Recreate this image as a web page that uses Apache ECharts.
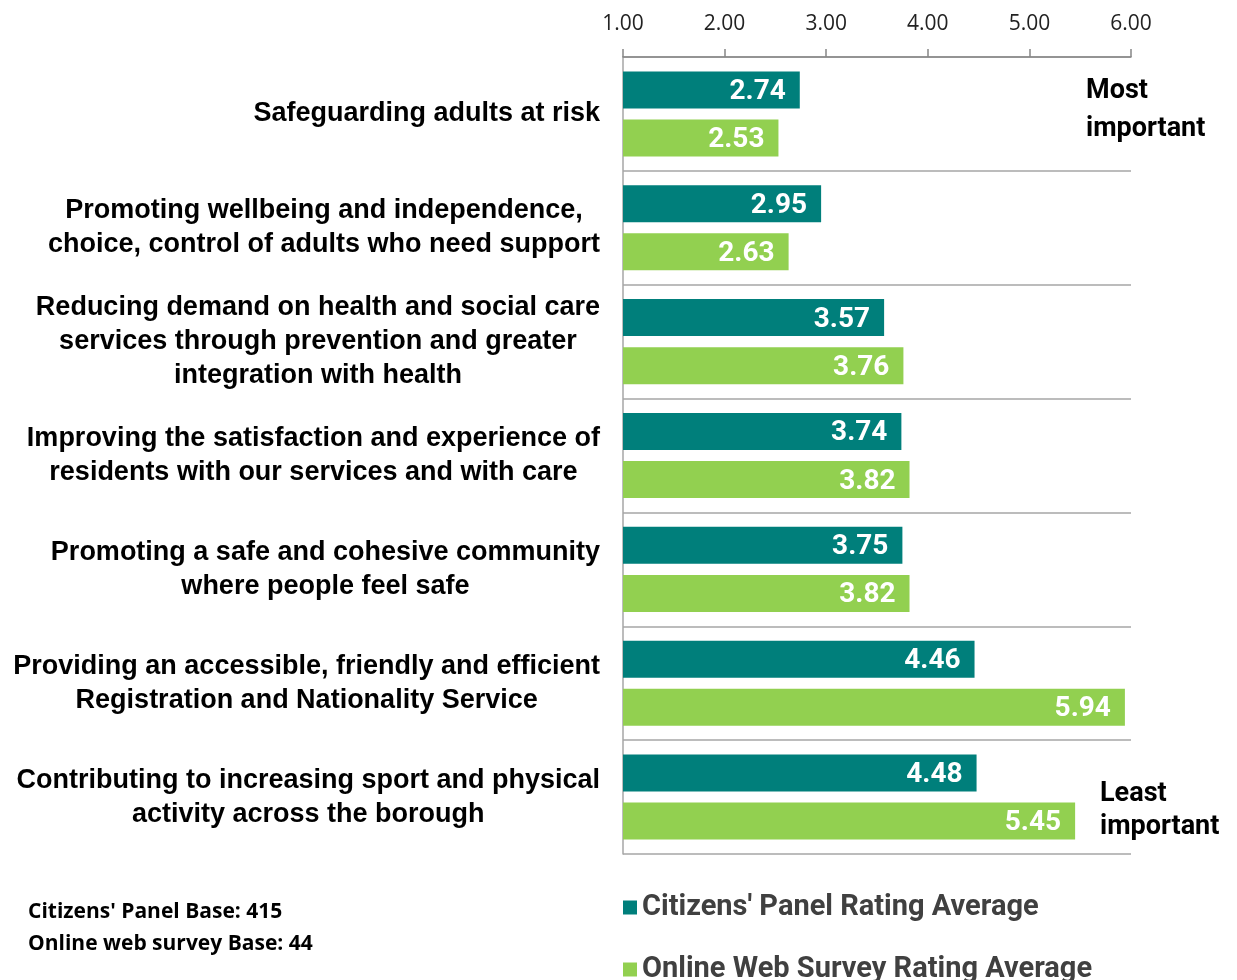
<!DOCTYPE html>
<html>
<head>
    <meta charset="utf-8">
    <title>Priorities rating</title>
    <script src="https://cdn.jsdelivr.net/npm/echarts@6/dist/echarts.min.js"></script>
    <style>
        html, body {margin:0;padding:0;background:#fff;}
        #main {width:1237px;height:980px;}
    </style>
</head>
<body>
<div id="main"></div>
<script>
    // data
    var categories = [
        'Safeguarding adults at risk',
        'Promoting wellbeing and independence,\nchoice, control of adults who need support',
        'Reducing demand on health and social care\nservices through prevention and greater\nintegration with health',
        'Improving the satisfaction and experience of\nresidents with our services and with care',
        'Promoting a safe and cohesive community\nwhere people feel safe',
        'Providing an accessible, friendly and efficient\nRegistration and Nationality Service',
        'Contributing to increasing sport and physical\nactivity across the borough'
    ];
    var panelAvg = [2.74, 2.95, 3.57, 3.74, 3.75, 4.46, 4.48];
    var webAvg = [2.53, 2.63, 3.76, 3.82, 3.82, 5.94, 5.45];
    var tickLabels = ['1.00', '2.00', '3.00', '4.00', '5.00', '6.00'];
    var seriesNames = ["Citizens' Panel Rating Average", 'Online Web Survey Rating Average'];

    var chart = echarts.init(document.getElementById('main'));

    var legendText = {fontFamily: 'Roboto', fontWeight: 'bold', fontSize: 29, color: '#404040'};
    var valueLabel = {
        show: true, position: 'insideRight', distance: 14, offset: [0, 2],
        fontFamily: 'Roboto', fontWeight: 'bold', fontSize: 28, color: '#fff',
        formatter: function (p) { return p.value.toFixed(2); }
    };

    chart.setOption({
        animation: false,
        grid: {left: 623, right: 106, top: 57, bottom: 126, containLabel: false},
        // one legend per line, like the stacked key in the picture
        legend: [
            {left: 618, top: 888, icon: 'rect', itemWidth: 14, itemHeight: 14,
             data: [seriesNames[0]], textStyle: legendText},
            {left: 618, top: 950, icon: 'rect', itemWidth: 14, itemHeight: 14,
             data: [seriesNames[1]], textStyle: legendText}
        ],
        xAxis: {
            type: 'value',
            position: 'top',
            min: 1,
            max: 6,
            interval: 1,
            axisLine: {show: true, lineStyle: {color: '#868686', width: 1.5}},
            axisTick: {show: true, length: 8, lineStyle: {color: '#868686', width: 1.5}},
            splitLine: {show: false},
            axisLabel: {
                margin: 22,
                fontFamily: 'Open Sans',
                fontSize: 21,
                color: '#222',
                formatter: function (v) { return tickLabels[Math.round(v) - 1]; }
            }
        },
        yAxis: {
            type: 'category',
            inverse: true,
            data: categories,
            axisLine: {show: true, lineStyle: {color: '#a6a6a6', width: 1.5}},
            axisTick: {show: false},
            splitLine: {show: true, lineStyle: {color: '#a6a6a6', width: 1.5}},
            axisLabel: {
                margin: 23,
                align: 'right',
                formatter: function (v) {
                    return v.split('\n').map(function (l) { return '{c|' + l + '}'; }).join('\n');
                },
                rich: {
                    c: {
                        align: 'center',
                        fontFamily: 'Liberation Sans',
                        fontWeight: 'bold',
                        fontSize: 27,
                        lineHeight: 34,
                        color: '#000'
                    }
                }
            }
        },
        series: [
            {
                name: seriesNames[0],
                type: 'bar',
                data: panelAvg,
                barWidth: 37,
                barGap: '30%',
                itemStyle: {color: '#007f7b'},
                label: valueLabel
            },
            {
                name: seriesNames[1],
                type: 'bar',
                data: webAvg,
                barWidth: 37,
                itemStyle: {color: '#92d050'},
                label: valueLabel
            }
        ],
        graphic: [
            {type: 'text', left: 1086, top: 72, style: {text: 'Most\nimportant', font: 'bold 27px Roboto', fill: '#000', lineHeight: 38}},
            {type: 'text', left: 1100, top: 778, style: {text: 'Least\nimportant', font: 'bold 27px Roboto', fill: '#000', lineHeight: 33}},
            {type: 'text', left: 28, top: 902, style: {text: "Citizens' Panel Base: 415", font: 'bold 21px "Open Sans"', fill: '#000'}},
            {type: 'text', left: 28, top: 934, style: {text: 'Online web survey Base: 44', font: 'bold 21px "Open Sans"', fill: '#000'}}
        ]
    });
</script>
</body>
</html>
